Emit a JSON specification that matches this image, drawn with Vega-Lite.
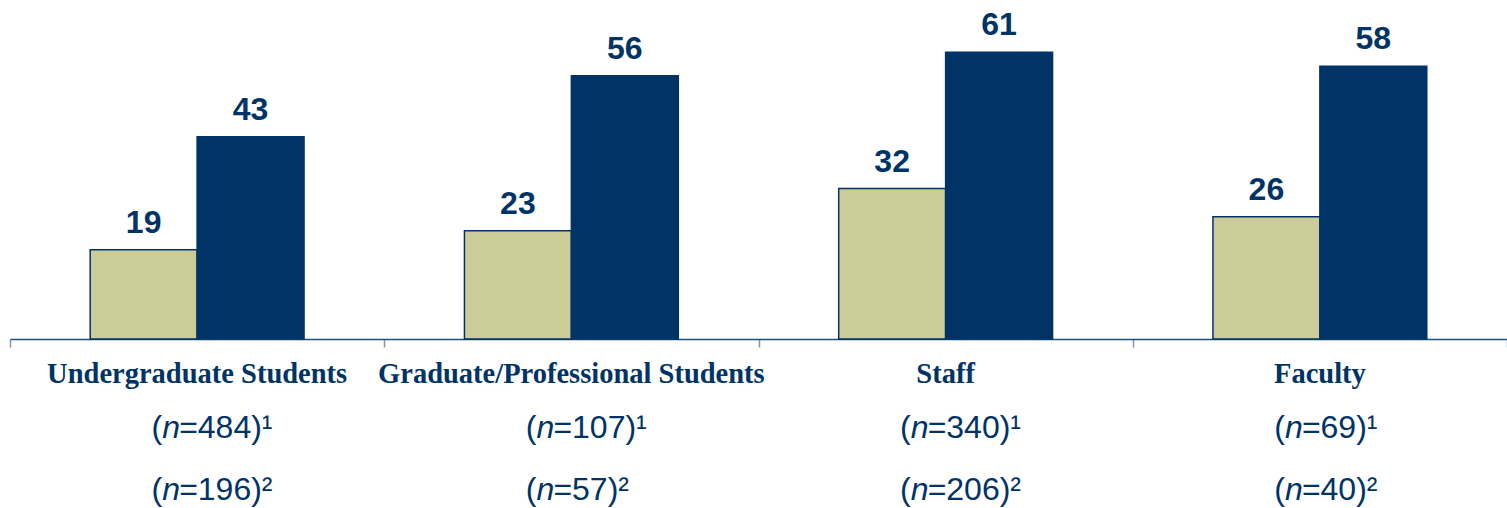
{
  "$schema": "https://vega.github.io/schema/vega-lite/v6.json",
  "width": 1497,
  "height": 339,
  "autosize": {"type": "none"},
  "padding": {"left": 10, "top": 0, "right": 0, "bottom": 169},
  "background": "white",
  "config": {"view": {"stroke": null}},
  "datasets": {
    "bars": [
      {"category": "Undergraduate Students", "survey": "1", "pct": 19},
      {"category": "Undergraduate Students", "survey": "2", "pct": 43},
      {"category": "Graduate/Professional Students", "survey": "1", "pct": 23},
      {"category": "Graduate/Professional Students", "survey": "2", "pct": 56},
      {"category": "Staff", "survey": "1", "pct": 32},
      {"category": "Staff", "survey": "2", "pct": 61},
      {"category": "Faculty", "survey": "1", "pct": 26},
      {"category": "Faculty", "survey": "2", "pct": 58}
    ],
    "labels": [
      {"category": "Undergraduate Students", "n1": "=484)¹", "n2": "=196)²"},
      {"category": "Graduate/Professional Students", "n1": "=107)¹", "n2": "=57)²"},
      {"category": "Staff", "n1": "=340)¹", "n2": "=206)²"},
      {"category": "Faculty", "n1": "=69)¹", "n2": "=40)²"}
    ]
  },
  "encoding": {
    "x": {
      "field": "category",
      "type": "nominal",
      "scale": {
        "domain": ["Undergraduate Students", "Graduate/Professional Students", "Staff", "Faculty"],
        "paddingInner": 0,
        "paddingOuter": 0
      },
      "axis": {
        "title": null,
        "labels": false,
        "grid": false,
        "domain": true,
        "domainColor": "#1F4E79",
        "domainWidth": 1.5,
        "ticks": true,
        "tickBand": "extent",
        "tickSize": 8,
        "tickColor": "#7F96B2",
        "tickWidth": 1.5
      }
    }
  },
  "layer": [
    {
      "data": {"name": "bars"},
      "mark": {"type": "bar", "stroke": "#003366", "strokeWidth": 1.5},
      "encoding": {
        "xOffset": {"field": "survey", "type": "nominal", "scale": {"paddingInner": 0, "paddingOuter": 0.75}},
        "y": {"field": "pct", "type": "quantitative", "scale": {"domain": [0, 72.1], "nice": false, "zero": true}, "axis": null},
        "color": {"field": "survey", "type": "nominal", "scale": {"domain": ["1", "2"], "range": ["#CCCC99", "#003366"]}, "legend": null}
      }
    },
    {
      "data": {"name": "bars"},
      "mark": {"type": "text", "baseline": "alphabetic", "align": "center", "dy": -17, "font": "Liberation Sans", "fontWeight": "bold", "fontSize": 32, "color": "#003366"},
      "encoding": {
        "xOffset": {"field": "survey", "type": "nominal", "scale": {"paddingInner": 0, "paddingOuter": 0.75}},
        "y": {"field": "pct", "type": "quantitative", "axis": null},
        "text": {"field": "pct", "type": "quantitative"}
      }
    },
    {
      "data": {"name": "labels"},
      "mark": {"type": "text", "baseline": "alphabetic", "align": "center", "dy": 44, "font": "Liberation Serif", "fontWeight": "bold", "fontSize": 28.5, "color": "#003366", "clip": false},
      "encoding": {
        "y": {"datum": 0, "type": "quantitative", "axis": null},
        "text": {"field": "category", "type": "nominal"}
      }
    },
    {
      "data": {"name": "labels"},
      "mark": {"type": "text", "baseline": "alphabetic", "align": "right", "dx": -35, "dy": 99, "font": "Liberation Sans", "fontSize": 32, "color": "#003366"},
      "encoding": {
        "y": {"datum": 0, "type": "quantitative", "axis": null},
        "text": {"value": "("}
      }
    },
    {
      "data": {"name": "labels"},
      "mark": {"type": "text", "baseline": "alphabetic", "align": "center", "dx": -26, "dy": 99, "font": "Liberation Sans", "fontStyle": "italic", "fontSize": 32, "color": "#003366"},
      "encoding": {
        "y": {"datum": 0, "type": "quantitative", "axis": null},
        "text": {"value": "n"}
      }
    },
    {
      "data": {"name": "labels"},
      "mark": {"type": "text", "baseline": "alphabetic", "align": "left", "dx": -18, "dy": 99, "font": "Liberation Sans", "fontSize": 32, "color": "#003366"},
      "encoding": {
        "y": {"datum": 0, "type": "quantitative", "axis": null},
        "text": {"field": "n1", "type": "nominal"}
      }
    },
    {
      "data": {"name": "labels"},
      "mark": {"type": "text", "baseline": "alphabetic", "align": "right", "dx": -35, "dy": 161, "font": "Liberation Sans", "fontSize": 32, "color": "#003366"},
      "encoding": {
        "y": {"datum": 0, "type": "quantitative", "axis": null},
        "text": {"value": "("}
      }
    },
    {
      "data": {"name": "labels"},
      "mark": {"type": "text", "baseline": "alphabetic", "align": "center", "dx": -26, "dy": 161, "font": "Liberation Sans", "fontStyle": "italic", "fontSize": 32, "color": "#003366"},
      "encoding": {
        "y": {"datum": 0, "type": "quantitative", "axis": null},
        "text": {"value": "n"}
      }
    },
    {
      "data": {"name": "labels"},
      "mark": {"type": "text", "baseline": "alphabetic", "align": "left", "dx": -18, "dy": 161, "font": "Liberation Sans", "fontSize": 32, "color": "#003366"},
      "encoding": {
        "y": {"datum": 0, "type": "quantitative", "axis": null},
        "text": {"field": "n2", "type": "nominal"}
      }
    }
  ]
}
